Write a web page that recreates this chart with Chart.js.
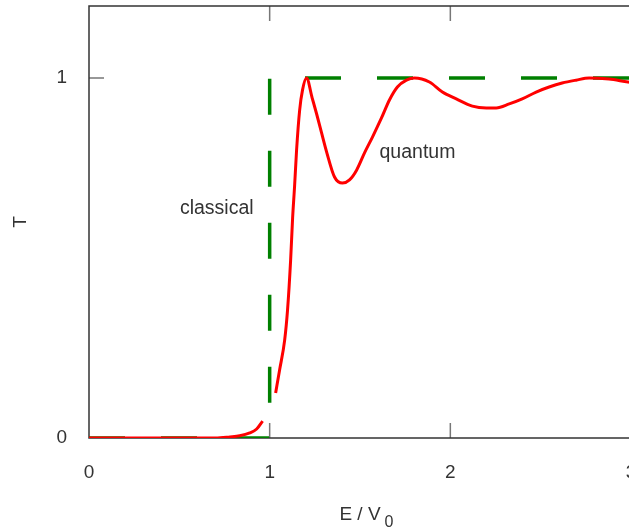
<!DOCTYPE html>
<html>
<head>
<meta charset="utf-8">
<script src="https://cdn.jsdelivr.net/npm/chart.js@4"></script>
<style>
  html, body { margin: 0; padding: 0; background: #fff; overflow: hidden; }
  canvas { display: block; }
</style>
</head>
<body>
<canvas id="myChart" width="660" height="529"></canvas>
<script>
// quantum transmission, two pieces (broken near E = V0)
const quantumE = [0, 0.2, 0.4, 0.6, 0.7, 0.78, 0.834, 0.89, 0.928, 0.961, 1.0,
  1.033, 1.055, 1.083, 1.099, 1.116, 1.127, 1.138, 1.149, 1.166, 1.182, 1.204,
  1.235, 1.26, 1.287, 1.315, 1.359, 1.403, 1.442, 1.481, 1.525, 1.569, 1.619,
  1.663, 1.707, 1.757, 1.801, 1.884, 1.956, 2.033, 2.122, 2.199, 2.254, 2.326,
  2.398, 2.475, 2.547, 2.619, 2.696, 2.768, 2.878, 2.983, 3.0];
const quantumT = [0, 0, 0, 0, 0, 0.003, 0.006, 0.014, 0.025, 0.047, null,
  0.125, 0.189, 0.272, 0.356, 0.494, 0.611, 0.7, 0.8, 0.911, 0.967, 1.0,
  0.945, 0.9, 0.848, 0.795, 0.725, 0.708, 0.717, 0.744, 0.792, 0.836, 0.889,
  0.939, 0.975, 0.994, 1.0, 0.989, 0.961, 0.942, 0.922, 0.917, 0.917, 0.928,
  0.942, 0.961, 0.975, 0.986, 0.994, 1.0, 0.997, 0.989, 0.988];

const classicalE = [0, 1, 1, 3];
const classicalT = [0, 0, 1, 1];

const xTicks = [0, 1, 2, 3];
const yTicks = [0, 1];

const noteText = ["classical", "quantum"];
const noteE = [0.503, 1.608];
const noteT = [0.622, 0.778];

const textFont = "'Liberation Sans', Arial, sans-serif";
const textColor = "#333";

function toPoints(xs, ys) {
  return xs.map((x, i) => ({ x: x, y: ys[i] }));
}

const frame = {
  id: "frame",
  beforeDatasetsDraw(chart) {
    const { ctx, chartArea: a, scales: { x, y } } = chart;
    ctx.save();
    ctx.strokeStyle = "#777";
    ctx.lineWidth = 1.5;
    ctx.beginPath();
    xTicks.slice(1).forEach((v) => {
      const px = x.getPixelForValue(v);
      ctx.moveTo(px, a.bottom);
      ctx.lineTo(px, a.bottom - 15);
      ctx.moveTo(px, a.top);
      ctx.lineTo(px, a.top + 15);
    });
    yTicks.slice(1).forEach((v) => {
      const py = y.getPixelForValue(v);
      ctx.moveTo(a.left, py);
      ctx.lineTo(a.left + 15, py);
      ctx.moveTo(a.right, py);
      ctx.lineTo(a.right - 15, py);
    });
    ctx.stroke();
    ctx.strokeStyle = "#333";
    ctx.lineWidth = 1.5;
    ctx.strokeRect(a.left, a.top, a.right - a.left, a.bottom - a.top);
    ctx.restore();
  },
  afterDraw(chart) {
    const { ctx, scales: { x, y } } = chart;
    ctx.save();
    ctx.fillStyle = textColor;
    ctx.font = "19.5px " + textFont;
    ctx.textBaseline = "alphabetic";
    ctx.textAlign = "left";
    noteText.forEach((t, i) => {
      ctx.fillText(t, x.getPixelForValue(noteE[i]), y.getPixelForValue(noteT[i]));
    });
    // subscript of the x axis title
    ctx.font = "19px " + textFont;
    const w = ctx.measureText(x.options.title.text).width;
    ctx.font = "16px " + textFont;
    ctx.fillText("0", (x.left + x.right) / 2 + w / 2 + 4, x.bottom - 2);
    ctx.restore();
  },
};

const ctx = document.getElementById("myChart");
new Chart(ctx, {
  type: "line",
  data: {
    datasets: [
      {
        label: "quantum",
        data: toPoints(quantumE, quantumT),
        borderColor: "#ff0000",
        borderWidth: 3,
        pointRadius: 0,
        spanGaps: false,
        cubicInterpolationMode: "monotone",
      },
      {
        label: "classical",
        data: toPoints(classicalE, classicalT),
        borderColor: "#008000",
        borderWidth: 3.5,
        borderDash: [36, 36],
        pointRadius: 0,
        tension: 0,
        borderCapStyle: "butt",
      },
    ],
  },
  options: {
    responsive: false,
    animation: false,
    devicePixelRatio: 1,
    layout: { padding: { left: 0, top: 6, right: 29, bottom: 0 } },
    plugins: { legend: { display: false }, tooltip: { enabled: false } },
    scales: {
      x: {
        type: "linear",
        min: 0,
        max: 3,
        afterFit: (s) => { s.height = 91; s.paddingLeft = 0; s.paddingRight = 0; },
        afterBuildTicks: (s) => { s.ticks = xTicks.map((v) => ({ value: v })); },
        grid: { display: false },
        border: { display: false },
        ticks: { color: textColor, padding: 15, font: { family: textFont, size: 19 } },
        title: {
          display: true,
          text: "E / V",
          color: textColor,
          font: { family: textFont, size: 19 },
          padding: { top: 0, bottom: 3 },
        },
      },
      y: {
        type: "linear",
        min: 0,
        max: 1.2,
        afterFit: (s) => { s.width = 89; s.paddingTop = 0; s.paddingBottom = 0; },
        afterBuildTicks: (s) => { s.ticks = yTicks.map((v) => ({ value: v })); },
        grid: { display: false },
        border: { display: false },
        ticks: { color: textColor, padding: 14, font: { family: textFont, size: 19 } },
        title: {
          display: true,
          text: "T",
          color: textColor,
          font: { family: textFont, size: 19 },
          padding: { top: 9, bottom: 0 },
        },
      },
    },
  },
  plugins: [frame],
});
</script>
</body>
</html>
